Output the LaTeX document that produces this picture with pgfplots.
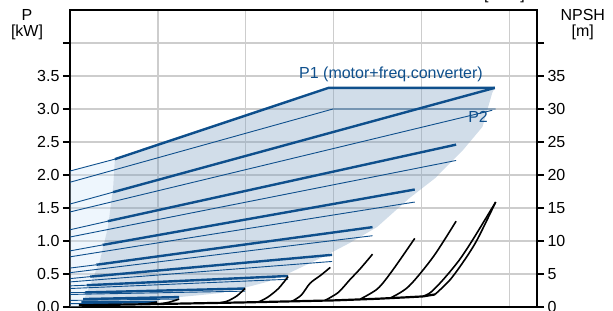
\documentclass[border=0pt]{standalone}
\usepackage{fontspec}
\setmainfont{Liberation Sans}
\usepackage{pgfplots}
\pgfplotsset{compat=1.18}
\definecolor{pb}{RGB}{14,79,140}
\definecolor{shade}{RGB}{124,158,192}
\definecolor{shadel}{RGB}{206,229,249}
\definecolor{gridc}{RGB}{205,205,205}
\begin{document}
\begin{tikzpicture}[font=\fontsize{16}{17}\selectfont]
\begin{axis}[name=ax,
  width=467pt, height=297pt, scale only axis,
  xmin=0, xmax=5.31, ymin=0, ymax=4.5,
  xtick={1,2,3,4,5}, xticklabels={}, xtick style={draw=none},
  ytick={0,0.5,1,1.5,2,2.5,3,3.5,4},
  yticklabels={0.0,0.5,1.0,1.5,2.0,2.5,3.0,3.5,{}},
  ytick pos=left, tick align=outside, major tick length=7pt,
  ytick style={line width=1.3pt, black},
  grid=major, grid style={gridc, line width=1.2pt},
  axis line style={line width=1.6pt},
  /pgf/number format/assume math mode=true,
  clip=false,
]
% light region
\addplot[draw=none, fill=shadel, fill opacity=0.35] coordinates {
 (0,0) (0,2.06) (0.51,2.24) (0.49,1.8) (0.43,1.2) (0.34,0.7) (0.25,0.4) (0.19,0.21) (0.15,0.08) (0.13,0) } -- cycle;
% operating region
\addplot[draw=none, fill=shade, fill opacity=0.35] coordinates {
 (0.51,2.24) (2.94,3.32) (4.83,3.32) (4.80,3.24) (4.69,2.73) (4.47,2.38) (4.15,1.95) (3.86,1.65) (3.49,1.21) (3.18,0.97) (2.88,0.76) (2.5,0.52) (2.24,0.38) (2.01,0.30) (1.70,0.21) (1.48,0.18) (1.0,0.12) (0.5,0.09) (0.15,0.08)
 (0.19,0.21) (0.25,0.4) (0.34,0.7) (0.43,1.2) (0.49,1.8) } -- cycle;
% P2 thin lines
\addplot[pb, line width=0.9pt] coordinates {(0,1.89) (2.99,3.0) (4.84,3.0)};
\addplot[pb, line width=0.9pt] coordinates {(0,1.44) (4.8,2.98)};
\addplot[pb, line width=0.9pt] coordinates {(0,1.06) (4.39,2.22)};
\addplot[pb, line width=0.9pt] coordinates {(0,0.76) (3.92,1.59)};
\addplot[pb, line width=0.9pt] coordinates {(0,0.52) (3.44,1.08)};
\addplot[pb, line width=0.9pt] coordinates {(0,0.38) (2.98,0.69)};
\addplot[pb, line width=0.9pt] coordinates {(0,0.28) (2.48,0.42)};
\addplot[pb, line width=0.9pt] coordinates {(0,0.19) (1.99,0.24)};
\addplot[pb, line width=0.9pt] coordinates {(0,0.10) (1.24,0.12)};
\addplot[pb, line width=0.9pt] coordinates {(0,0.05) (0.99,0.06)};
% P1 thin full lines
\addplot[pb, line width=0.9pt] coordinates {(0,2.06) (0.51,2.24)};
\addplot[pb, line width=0.9pt] coordinates {(0,1.56) (0.49,1.74)};
\addplot[pb, line width=0.9pt] coordinates {(0,1.17) (0.43,1.30)};
\addplot[pb, line width=0.9pt] coordinates {(0,0.85) (0.37,0.94)};
\addplot[pb, line width=0.9pt] coordinates {(0,0.59) (0.30,0.64)};
\addplot[pb, line width=0.9pt] coordinates {(0,0.43) (0.23,0.46)};
\addplot[pb, line width=0.9pt] coordinates {(0,0.32) (0.19,0.33)};
\addplot[pb, line width=0.9pt] coordinates {(0,0.22) (0.17,0.22)};
% P1 thick parts
\addplot[pb, line width=2.4pt] coordinates {(0.51,2.24) (2.94,3.32) (4.83,3.32)};
\addplot[pb, line width=2.4pt] coordinates {(0.49,1.74) (4.83,3.32)};
\addplot[pb, line width=2.4pt] coordinates {(0.43,1.30) (4.39,2.46)};
\addplot[pb, line width=2.4pt] coordinates {(0.37,0.94) (3.92,1.78)};
\addplot[pb, line width=2.4pt] coordinates {(0.30,0.64) (3.44,1.21)};
\addplot[pb, line width=2.4pt] coordinates {(0.23,0.46) (2.98,0.79)};
\addplot[pb, line width=2.4pt] coordinates {(0.19,0.33) (2.48,0.47)};
\addplot[pb, line width=2.4pt] coordinates {(0.17,0.22) (1.99,0.28)};
\addplot[pb, line width=2.4pt] coordinates {(0.15,0.12) (1.24,0.15)};
\addplot[pb, line width=2.4pt] coordinates {(0.13,0.07) (0.99,0.08)};
\node[pb] at (axis cs:3.65,3.52) {P1 (motor+freq.converter)};
\node[pb] at (axis cs:4.64,2.88) {P2};
\node[align=center, inner sep=0pt] at (rel axis cs:-0.092,0.950) {P\\[-1pt][kW]};
\node[align=center, inner sep=0pt] at (rel axis cs:1.098,0.950) {NPSH\\[-1pt][m]};
\node[anchor=base, inner sep=0pt] at ([yshift=10pt]axis cs:4.94,4.5) {[m³/h]};
\end{axis}
\begin{axis}[
  width=467pt, height=297pt, scale only axis,
  xmin=0, xmax=5.31, ymin=0, ymax=45,
  axis x line=none, axis y line*=right,
  ytick={0,5,10,15,20,25,30,35,40},
  yticklabels={0,5,10,15,20,25,30,35,{}},
  tick align=outside, major tick length=7pt,
  ytick style={line width=1.3pt, black},
  axis line style={line width=1.6pt},
  y axis line style={-},
]
\addplot[black, line width=2.2pt] coordinates {(0.1,0.25) (1,0.45) (2,0.7) (3,1.0) (3.5,1.25) (3.8,1.45) (4.01,1.6) (4.15,1.9)};
\addplot[black, line width=1.6pt, smooth] coordinates {(0.8,0.4) (0.9,0.55) (0.99,0.75)};
\addplot[black, line width=1.6pt, smooth] coordinates {(1.0,0.45) (1.12,0.7) (1.24,1.2)};
\addplot[black, line width=1.6pt, smooth] coordinates {(1.72,0.65) (1.8,0.95) (1.9,1.7) (1.99,2.8)};
\addplot[black, line width=1.6pt, smooth] coordinates {(2.15,0.8) (2.25,1.5) (2.37,2.8) (2.48,4.6)};
\addplot[black, line width=1.6pt, smooth] coordinates {(2.53,0.9) (2.63,1.8) (2.73,3.6) (2.85,4.8) (2.96,6.0)};
\addplot[black, line width=1.6pt, smooth] coordinates {(2.9,1.0) (3.05,2.2) (3.18,4.1) (3.3,5.8) (3.44,8.0)};
\addplot[black, line width=1.6pt, smooth] coordinates {(3.3,1.2) (3.5,2.8) (3.67,5.6) (3.92,10.4)};
\addplot[black, line width=1.6pt, smooth] coordinates {(3.64,1.35) (3.85,3.1) (4.13,7.6) (4.39,13.0)};
\addplot[black, line width=1.6pt, smooth] coordinates {(4.15,1.9) (4.32,4.1) (4.48,7.0) (4.63,10.2) (4.84,15.9)};
\addplot[black, line width=1.6pt, smooth] coordinates {(4.01,1.6) (4.1,2.2) (4.24,4.1) (4.42,7.0) (4.58,10.2) (4.84,15.9)};
\end{axis}
\pgfresetboundingbox
\path ([shift={(-70pt,-4pt)}]ax.south west) rectangle ([shift={(76pt,10pt)}]ax.north east);
\end{tikzpicture}
\end{document}
